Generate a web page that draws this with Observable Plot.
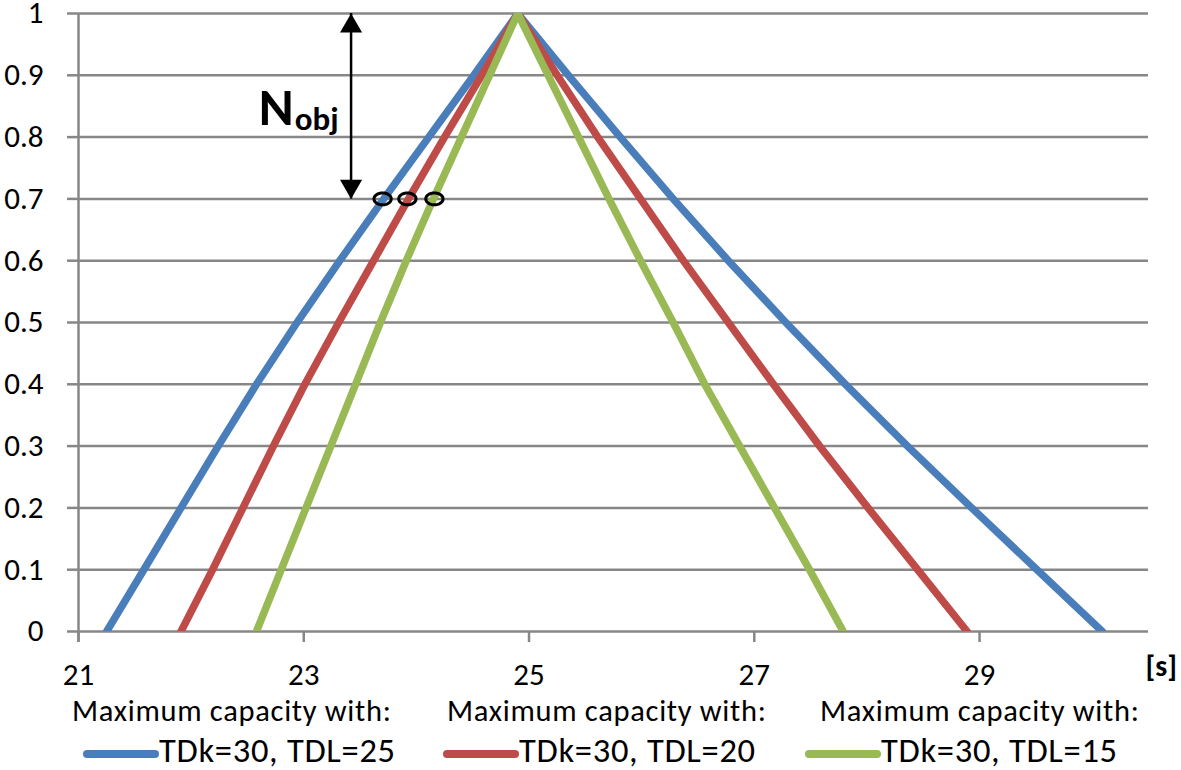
<!DOCTYPE html>
<html><head><meta charset="utf-8">
<script src="https://cdn.jsdelivr.net/npm/d3@7"></script>
<script src="https://cdn.jsdelivr.net/npm/@observablehq/plot@0.6"></script>
<style>
body{margin:0;background:#fff;overflow:hidden;font-family:Calibri,Carlito,Lato,sans-serif;}
#chart{position:relative;width:1181px;height:770px;background:#fff;}
#legend{position:absolute;left:0;top:700px;width:1181px;height:70px;}
.head{position:absolute;top:-4px;font-size:30.5px;letter-spacing:0.7px;line-height:1;white-space:nowrap;color:#000;}
.item{position:absolute;top:33px;font-size:34.5px;letter-spacing:0.7px;line-height:1;white-space:nowrap;color:#000;}
.sw{position:absolute;top:50px;width:76px;height:8px;border-radius:4px;}
</style></head>
<body><div id="chart"></div>
<script>
// capacity levels (y)
const levels = [0, 0.1, 0.2, 0.3, 0.4, 0.5, 0.6, 0.7, 0.8, 0.9, 1];
// time [s] reached at each level, rising and falling branches
const riseTDL25 = [21.25, 21.58, 21.91, 22.24, 22.58, 22.94, 23.32, 23.71, 24.11, 24.51, 24.90];
const fallTDL25 = [30.09, 29.51, 28.93, 28.36, 27.81, 27.28, 26.77, 26.28, 25.81, 25.35, 24.90];
const riseTDL20 = [21.91, 22.19, 22.46, 22.73, 23.01, 23.31, 23.62, 23.93, 24.25, 24.58, 24.90];
const fallTDL20 = [28.89, 28.45, 28.01, 27.58, 27.17, 26.77, 26.37, 25.99, 25.61, 25.25, 24.90];
const riseTDL15 = [22.58, 22.80, 23.02, 23.24, 23.46, 23.68, 23.91, 24.15, 24.40, 24.65, 24.90];
const fallTDL15 = [27.79, 27.49, 27.18, 26.87, 26.56, 26.28, 25.99, 25.71, 25.44, 25.17, 24.90];

const seriesNames = ["TDk=30, TDL=25", "TDk=30, TDL=20", "TDk=30, TDL=15"];
const seriesColors = ["#4A7EBB", "#BE4B48", "#98B954"];
const legendHeader = "Maximum capacity with:";

const xTicks = [21, 23, 25, 27, 29];
const yTicks = [0, 0.1, 0.2, 0.3, 0.4, 0.5, 0.6, 0.7, 0.8, 0.9, 1];
const xUnit = "[s]";

// annotation
const nobjLevel = [0.7];          // arrow lower end (capacity level)
const nobjTop = [1];              // arrow upper end
const nobjArrowX = [23.42];
const nobjMarksX = [23.70, 23.92, 24.16];
const nobjLabel = [{x: 22.60, y: 0.82, main: "N", x2: 22.92, y2: 0.812, sub: "obj"}];

// build rows
const rises = [riseTDL25, riseTDL20, riseTDL15];
const falls = [fallTDL25, fallTDL20, fallTDL15];
const rows = [];
seriesNames.forEach((name, i) => {
  levels.forEach((v, j) => rows.push({series: name, t: rises[i][j], v}));
  for (let j = levels.length - 2; j >= 0; j--) rows.push({series: name, t: falls[i][j], v: levels[j]});
});

const ellipse = {
  draw(context, size) {
    const r = Math.sqrt(size / Math.PI), rx = r * 1.2, ry = r * 0.82, n = 32;
    for (let k = 0; k <= n; k++) {
      const a = 2 * Math.PI * k / n;
      const px = rx * Math.cos(a), py = ry * Math.sin(a);
      k === 0 ? context.moveTo(px, py) : context.lineTo(px, py);
    }
    context.closePath();
  }
};

const gray = "#878787";
const chart = Plot.plot({
  width: 1181, height: 700,
  marginLeft: 78, marginRight: 33, marginTop: 13, marginBottom: 69,
  style: {fontFamily: "Calibri, Carlito, Lato, sans-serif", fontSize: "31px", color: "#000", background: "#fff", overflow: "visible"},
  x: {domain: [21, 30.5]},
  y: {domain: [0, 1]},
  color: {domain: seriesNames, range: seriesColors},
  marks: [
    Plot.gridY(yTicks, {stroke: gray, strokeOpacity: 1, strokeWidth: 2.5}),
    Plot.axisY(yTicks, {tickSize: 11, tickPadding: 24, stroke: gray, strokeWidth: 2.5, fontSize: 31, tickFormat: d => String(d), label: null}),
    Plot.axisX(xTicks, {tickSize: 11, tickPadding: 20, stroke: gray, strokeWidth: 2.5, fontSize: 31, tickFormat: d => String(d), label: null}),
    Plot.ruleX([21], {stroke: gray, strokeWidth: 2.5, insetBottom: -11}),
    Plot.line(rows, {x: "t", y: "v", z: "series", stroke: "series", strokeWidth: 7.5,
      strokeLinejoin: "miter", strokeMiterlimit: 20, strokeLinecap: "round", clip: true}),
    Plot.ruleX(nobjArrowX, {x: d => d, y1: nobjLevel[0], y2: nobjTop[0], stroke: "#000", strokeWidth: 2.5}),
    Plot.dot(nobjArrowX, {x: d => d, y: () => nobjTop[0], symbol: "triangle", r: 8.2, fill: "#000", stroke: null, dy: 12.7}),
    Plot.dot(nobjArrowX, {x: d => d, y: () => nobjLevel[0], symbol: "triangle", r: 8.2, fill: "#000", stroke: null, rotate: 180, dy: -12.7}),
    Plot.dot(nobjMarksX, {x: d => d, y: () => nobjLevel[0], symbol: ellipse, r: 7.2, fill: "none", stroke: "#000", strokeWidth: 3}),
    Plot.text(nobjLabel, {x: "x", y: "y", text: "main", fontWeight: "bold", fontSize: 53, textAnchor: "start", lineAnchor: "bottom", fill: "#000"}),
    Plot.text(nobjLabel, {x: "x2", y: "y2", text: "sub", fontWeight: "bold", fontSize: 33, textAnchor: "start", lineAnchor: "bottom", fill: "#000"}),
    Plot.text([xUnit], {text: d => d, frameAnchor: "bottom-right", textAnchor: "start", lineAnchor: "bottom", dx: -3, dy: 44, fontWeight: "bold", fontSize: 30, fill: "#000"})
  ]
});

const root = document.getElementById("chart");
root.appendChild(chart);
const legend = document.createElement("div");
legend.id = "legend";
const headLeft = [72, 447, 820];
const swLeft = [83, 443, 805];
seriesNames.forEach((name, i) => {
  const h = document.createElement("div");
  h.className = "head"; h.style.left = headLeft[i] + "px"; h.textContent = legendHeader;
  const s = document.createElement("div");
  s.className = "sw"; s.style.left = swLeft[i] + "px"; s.style.background = seriesColors[i];
  const t = document.createElement("div");
  t.className = "item"; t.style.left = (swLeft[i] + 76) + "px"; t.textContent = name;
  legend.append(h, s, t);
});
root.appendChild(legend);
</script>
</body></html>
